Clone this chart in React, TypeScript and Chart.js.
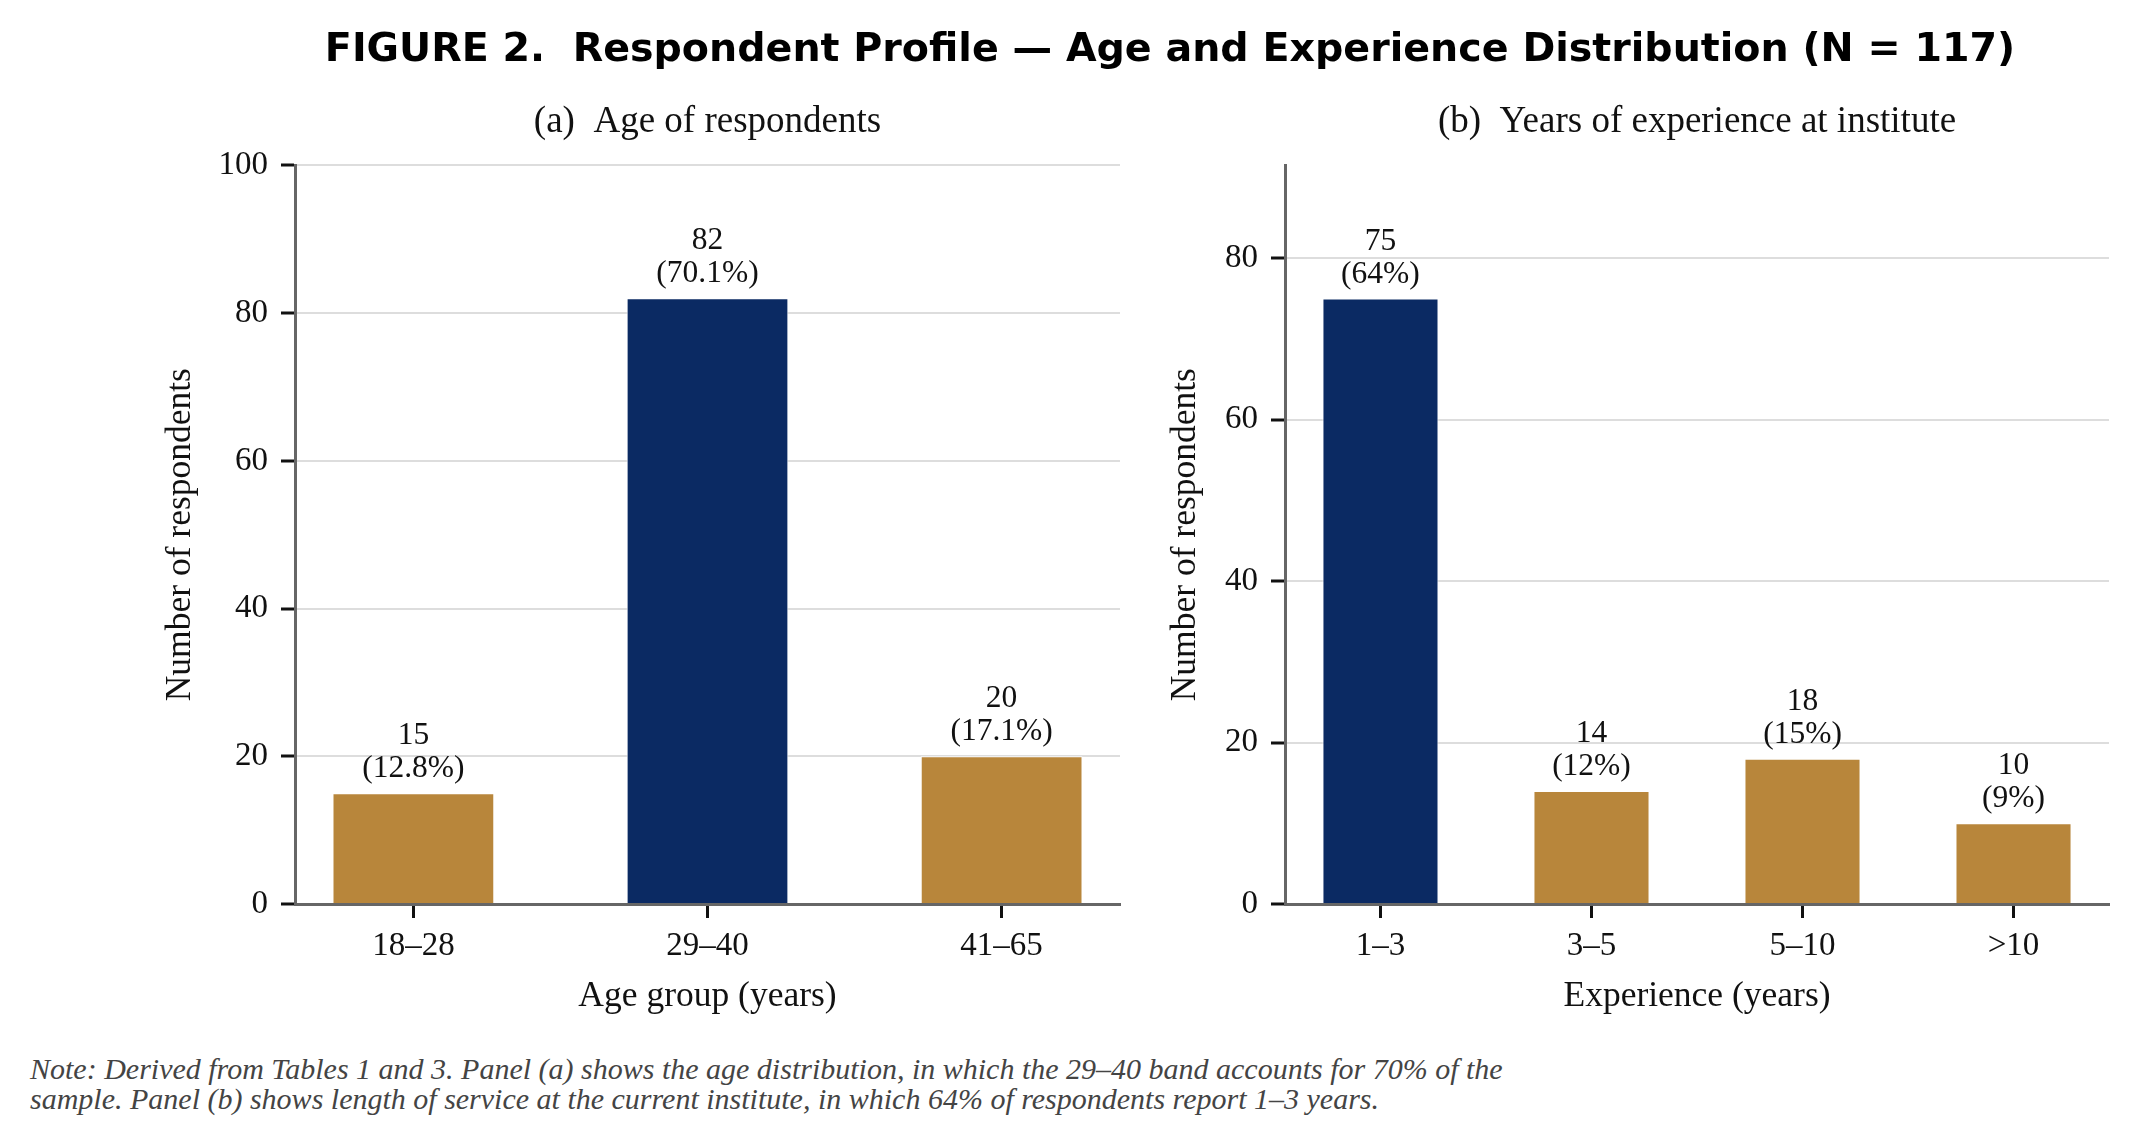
import { useEffect, useRef } from 'react';
import { Chart, registerables } from 'chart.js';

Chart.register(...registerables);

// panel (a)
const ageGroups = ['18–28', '29–40', '41–65'];
const ageCounts = [15, 82, 20];
const agePct = [12.8, 70.1, 17.1];

// panel (b)
const expGroups = ['1–3', '3–5', '5–10', '>10'];
const expCounts = [75, 14, 18, 10];
const expPct = [64, 12, 15, 9];

const yTickStep = 20;

const NAVY = '#0b2a63';
const GOLD = '#b8863b';
const SERIF = '"Liberation Serif", "Times New Roman", serif';

const BAR_W = 0.55;

const barLabels = {
  id: 'barLabels',
  afterDatasetsDraw(chart: any, _args: any, opts: any) {
    const ctx = chart.ctx;
    const meta = chart.getDatasetMeta(0);
    ctx.save();
    ctx.font = `31.5px ${SERIF}`;
    ctx.fillStyle = '#111';
    ctx.textAlign = 'center';
    ctx.textBaseline = 'alphabetic';
    meta.data.forEach((bar: any, i: number) => {
      const { x, y } = bar.getProps(['x', 'y'], true);
      ctx.fillText(String(opts.counts[i]), x, y - 49);
      ctx.fillText(`(${opts.pct[i].toFixed(opts.decimals)}%)`, x, y - 16);
    });
    ctx.restore();
  }
};

interface PanelProps {
  left: number;
  width: number;
  height: number;
  cats: string[];
  counts: number[];
  pct: number[];
  decimals: number;
  yMax: number;
  title: string;
  xTitle: string;
  padLeft: number;
  padRight: number;
  yAxisWidth: number;
}

function Panel(p: PanelProps) {
  const canvasRef = useRef<HTMLCanvasElement | null>(null);
  const chartRef = useRef<Chart | null>(null);

  useEffect(() => {
    if (!canvasRef.current) return;
    if (chartRef.current) chartRef.current.destroy();

    const n = p.cats.length;
    // matplotlib style 5% margins around the bars
    const pad = BAR_W / 2 + 0.05 * (n - 1 + BAR_W);
    const top = Math.max(...p.counts);

    chartRef.current = new Chart(canvasRef.current, {
      type: 'bar',
      data: {
        datasets: [
          {
            data: p.counts.map((v, i) => ({ x: i, y: v })),
            backgroundColor: p.counts.map((v) => (v === top ? NAVY : GOLD)),
            borderColor: '#ffffff',
            borderWidth: 1,
            barPercentage: BAR_W,
            categoryPercentage: 1
          }
        ]
      },
      plugins: [barLabels],
      options: {
        animation: false,
        responsive: false,
        devicePixelRatio: 1,
        layout: {
          padding: { left: p.padLeft, right: p.padRight, top: 0, bottom: 22 }
        },
        plugins: {
          legend: { display: false },
          tooltip: { enabled: false },
          title: {
            display: true,
            text: p.title,
            fullSize: false,
            color: '#111',
            font: { family: SERIF, size: 37, weight: 'normal' },
            padding: { top: 100, bottom: 21 }
          },
          barLabels: { counts: p.counts, pct: p.pct, decimals: p.decimals }
        } as any,
        scales: {
          x: {
            type: 'linear',
            offset: false,
            min: -pad,
            max: n - 1 + pad,
            afterBuildTicks: (scale: any) => {
              scale.ticks = p.cats.map((_, i) => ({ value: i }));
            },
            afterFit: (scale: any) => {
              scale.height = 114;
            },
            ticks: {
              color: '#111',
              font: { family: SERIF, size: 33 },
              padding: 9,
              maxRotation: 0,
              autoSkip: false,
              callback: (v: any) => p.cats[v as number]
            },
            grid: {
              display: true,
              offset: false,
              drawOnChartArea: false,
              drawTicks: true,
              tickLength: 14,
              tickWidth: 3,
              tickColor: '#111'
            },
            border: { display: true, color: '#666666', width: 3, z: 1 },
            title: {
              display: true,
              text: p.xTitle,
              color: '#111',
              font: { family: SERIF, size: 35.5 },
              padding: 0
            }
          },
          y: {
            min: 0,
            max: p.yMax,
            afterFit: (scale: any) => {
              scale.width = p.yAxisWidth;
            },
            ticks: {
              stepSize: yTickStep,
              includeBounds: false,
              color: '#111',
              font: { family: SERIF, size: 33 },
              padding: 13
            },
            grid: {
              color: '#dddddd',
              lineWidth: 2,
              tickLength: 14,
              tickWidth: 3,
              tickColor: '#111'
            },
            border: { display: true, color: '#666666', width: 3, z: 1 },
            title: {
              display: true,
              text: 'Number of respondents',
              color: '#111',
              font: { family: SERIF, size: 35.5 },
              padding: 0
            }
          }
        }
      } as any
    });

    return () => {
      if (chartRef.current) {
        chartRef.current.destroy();
        chartRef.current = null;
      }
    };
  }, []);

  return (
    <canvas
      ref={canvasRef}
      width={p.width}
      height={p.height}
      style={{ position: 'absolute', left: p.left, top: 0, width: p.width, height: p.height }}
    />
  );
}

export default function App() {
  return (
    <div
      style={{
        position: 'absolute',
        left: 0,
        top: 0,
        width: 2137,
        height: 1146,
        background: '#ffffff',
        overflow: 'hidden'
      }}
    >
      <Panel
        left={0}
        width={1150}
        height={1040}
        cats={ageGroups}
        counts={ageCounts}
        pct={agePct}
        decimals={1}
        yMax={100}
        title="(a)  Age of respondents"
        xTitle="Age group (years)"
        padLeft={159}
        padRight={30}
        yAxisWidth={136}
      />
      <Panel
        left={1150}
        width={987}
        height={1040}
        cats={expGroups}
        counts={expCounts}
        pct={expPct}
        decimals={0}
        yMax={91.5}
        title="(b)  Years of experience at institute"
        xTitle="Experience (years)"
        padLeft={14}
        padRight={28}
        yAxisWidth={121}
      />
      <div
        style={{
          position: 'absolute',
          left: 1170,
          top: 27,
          transform: 'translateX(-50%)',
          whiteSpace: 'nowrap',
          fontFamily: '"DejaVu Sans", sans-serif',
          fontWeight: 'bold',
          fontSize: 39.6,
          lineHeight: '40px',
          color: '#000'
        }}
      >
        FIGURE 2.&nbsp; Respondent Profile — Age and Experience Distribution (N = 117)
      </div>
      <div
        style={{
          position: 'absolute',
          left: 30,
          top: 1054,
          whiteSpace: 'nowrap',
          fontFamily: SERIF,
          fontStyle: 'italic',
          fontSize: 30,
          lineHeight: '30px',
          color: '#444444'
        }}
      >
        Note: Derived from Tables 1 and 3. Panel (a) shows the age distribution, in which the 29–40 band accounts for 70% of the
        <br />
        sample. Panel (b) shows length of service at the current institute, in which 64% of respondents report 1–3 years.
      </div>
    </div>
  );
}
